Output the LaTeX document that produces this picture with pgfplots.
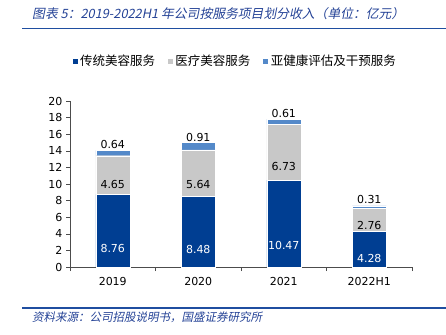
\documentclass[border=0pt]{standalone}
\usepackage{pgfplots}
\pgfplotsset{compat=1.18}
\usepackage{fontspec}
\setmainfont{DejaVu Sans}
\newfontfamily\cjk{Noto Sans CJK SC}
\newfontfamily\cjkit[FakeSlant=0.2]{Noto Sans CJK SC}
\definecolor{darkblue}{RGB}{0,62,146}
\definecolor{midgray}{RGB}{200,200,200}
\definecolor{lightblue}{RGB}{84,137,201}
\definecolor{titleblue}{RGB}{36,66,150}
\definecolor{rule}{RGB}{31,78,160}
\pgfplotstableread{
x a b c
0 8.76 4.65 0.64
1 8.48 5.64 0.91
2 10.47 6.73 0.61
3 4.28 2.76 0.31
}\data
\begin{document}
\begin{tikzpicture}
\useasboundingbox (0,0) rectangle (446pt,-334pt);
\node[anchor=west, inner sep=0, text=titleblue, font=\cjkit\fontsize{12.8}{14}\selectfont] at (32pt,-14pt) {图表 5：2019-2022H1 年公司按服务项目划分收入（单位：亿元）};
\draw[rule, line width=1pt] (22pt,-29pt) -- (446pt,-29pt);
\draw[rule, line width=1.5pt] (22pt,-308pt) -- (446pt,-308pt);
\node[anchor=west, inner sep=0, text=titleblue, font=\cjkit\fontsize{11.5}{13}\selectfont] at (32pt,-317pt) {资料来源：公司招股说明书，国盛证券研究所};
\begin{axis}[
  at={(70pt,-267pt)}, anchor=south west,
  scale only axis, width=342pt, height=166pt,
  ybar stacked, bar width=34pt,
  xmin=-0.5, xmax=3.5, ymin=0, ymax=20,
  xtick={0,1,2,3}, xticklabels={2019,2020,2021,2022H1},
  minor xtick={-0.5,0.5,1.5,2.5,3.5},
  ytick={0,2,...,20},
  axis lines*=left,
  tick align=outside, major tick length=4pt, minor tick length=4pt,
  major x tick style={draw=none},
  tick style={black!70, line width=0.6pt}, axis line style={black!70, line width=0.6pt},
  /pgf/number format/assume math mode=true,
  ticklabel style={font=\fontsize{11}{13}\selectfont},
  xticklabel style={yshift=-3pt},
  visualization depends on={rawy \as \rawy},
  nodes near coords={\pgfmathprintnumber[fixed,precision=2,fixed zerofill,assume math mode=true]{\rawy}},
  legend style={draw=none, fill=none, legend columns=3, at={(0.482,1.241)}, anchor=center,
    font=\cjk\fontsize{12.5}{14}\selectfont,
    /tikz/every even column/.append style={column sep=10pt}},
  legend image code/.code={\fill[#1] (0pt,-3pt) rectangle (6pt,3pt);},
]
\addplot[fill=darkblue, draw=white, line width=0.3pt,
  every node near coord/.style={font=\fontsize{11}{13}\selectfont, text=white, anchor=center, yshift=-2.075pt*\rawy}]
  table[x=x, y=a] {\data};
\addplot[fill=midgray, draw=white, line width=0.3pt,
  every node near coord/.style={font=\fontsize{11}{13}\selectfont, text=black, anchor=center, yshift=-2.075pt*\rawy}]
  table[x=x, y=b] {\data};
\addplot[fill=lightblue, draw=white, line width=0.3pt,
  every node near coord/.style={font=\fontsize{11}{13}\selectfont, text=black, anchor=south, yshift=0.5pt}]
  table[x=x, y=c] {\data};
\legend{传统美容服务, 医疗美容服务, 亚健康评估及干预服务}
\end{axis}
\end{tikzpicture}
\end{document}
